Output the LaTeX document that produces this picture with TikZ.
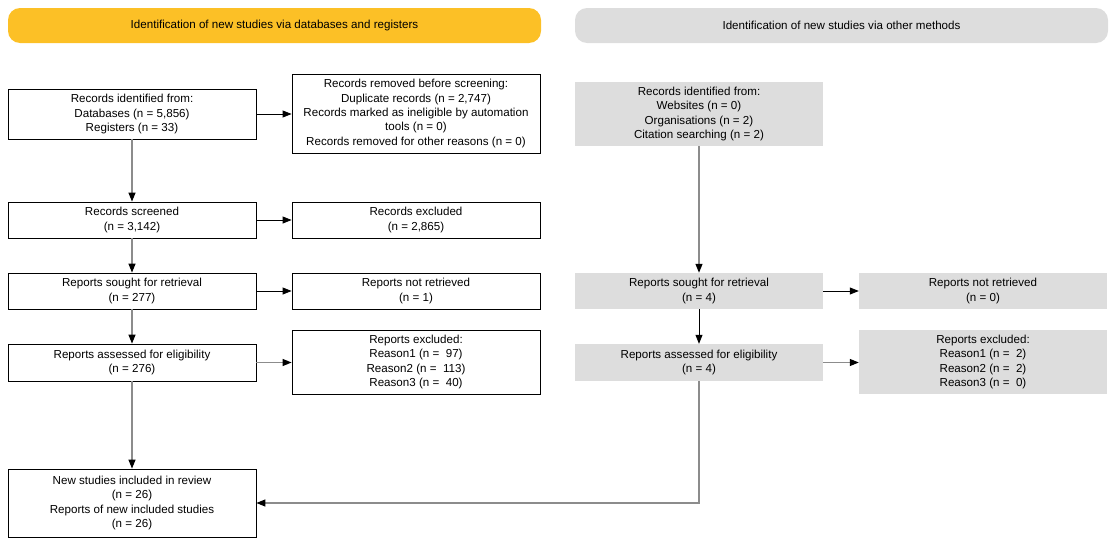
\documentclass[tikz,border=0pt]{standalone}
\usepackage{fontspec}
\setmainfont{Liberation Sans}
\usetikzlibrary{arrows.meta}
\definecolor{hdrgold}{RGB}{252,192,38}
\definecolor{boxgray}{RGB}{221,221,221}
\definecolor{linegray}{RGB}{140,140,140}
\begin{document}
\begin{tikzpicture}[x=1pt,y=-1pt,
  every node/.style={font=\fontsize{11.6}{14.4}\selectfont, align=center, inner sep=0pt},
  wbox/.style={draw=black, line width=0.8pt, fill=white, minimum width=248pt},
  gbox/.style={fill=boxgray, minimum width=248pt},
  hdr/.style={rounded corners=12pt, minimum width=533pt, minimum height=35pt},
  conn/.style={draw=linegray, line width=1.2pt, -{Triangle[length=9pt,width=7pt,color=black]}},
  connk/.style={draw=black, line width=0.8pt, -{Triangle[length=9pt,width=7pt,color=black]}}
]
\useasboundingbox (0,0) rectangle (1117,546);
% headers
\node[hdr, fill=hdrgold] (h1) at (274.5,25.5) {Identification of new studies via databases and registers};
\node[hdr, fill=boxgray] (h2) at (841.5,25.5) {Identification of new studies via other methods};
% left column
\node[wbox, minimum height=50pt] (idL) at (132,114) {Records identified from:\\Databases (n = 5,856)\\Registers (n = 33)};
\node[wbox, minimum height=79pt] (rem) at (416,113.5) {Records removed before screening:\\Duplicate records (n = 2,747)\\Records marked as ineligible by automation\\tools (n = 0)\\Records removed for other reasons (n = 0)};
\node[wbox, minimum height=36pt] (scr) at (132,220) {Records screened\\(n = 3,142)};
\node[wbox, minimum height=36pt] (exc) at (416,220) {Records excluded\\(n = 2,865)};
\node[wbox, minimum height=36pt] (sgt) at (132,291) {Reports sought for retrieval\\(n = 277)};
\node[wbox, minimum height=36pt] (nrt) at (416,291) {Reports not retrieved\\(n = 1)};
\node[wbox, minimum height=37pt] (asd) at (132,362.5) {Reports assessed for eligibility\\(n = 276)};
\node[wbox, minimum height=64pt] (rex) at (416,362) {Reports excluded:\\Reason1 (n =\ \ 97)\\Reason2 (n =\ \ 113)\\Reason3 (n =\ \ 40)};
\node[wbox, minimum height=68pt] (inc) at (132,503) {New studies included in review\\(n = 26)\\Reports of new included studies\\(n = 26)};
% right column
\node[gbox, minimum height=64pt] (idR) at (699,114) {Records identified from:\\Websites (n = 0)\\Organisations (n = 2)\\Citation searching (n = 2)};
\node[gbox, minimum height=36pt] (sgtR) at (699,291) {Reports sought for retrieval\\(n = 4)};
\node[gbox, minimum height=36pt] (nrtR) at (983,291) {Reports not retrieved\\(n = 0)};
\node[gbox, minimum height=37pt] (asdR) at (699,362.5) {Reports assessed for eligibility\\(n = 4)};
\node[gbox, minimum height=64pt] (rexR) at (983,362) {Reports excluded:\\Reason1 (n =\ \ 2)\\Reason2 (n =\ \ 2)\\Reason3 (n =\ \ 0)};
% connectors left
\draw[conn] (idL) -- (scr);
\draw[connk] (idL.east) -- (idL.east -| rem.west);
\draw[connk] (scr) -- (exc);
\draw[conn] (scr) -- (sgt);
\draw[connk] (sgt) -- (nrt);
\draw[conn] (sgt) -- (asd);
\draw[conn] (asd.east) -- (asd.east -| rex.west);
\draw[conn] (asd) -- (inc);
% connectors right
\draw[conn] (idR) -- (sgtR);
\draw[connk] (sgtR) -- (nrtR);
\draw[connk] (sgtR) -- (asdR);
\draw[conn] (asdR.east) -- (asdR.east -| rexR.west);
\draw[conn] (asdR.south) |- (inc.east);
\end{tikzpicture}
\end{document}
